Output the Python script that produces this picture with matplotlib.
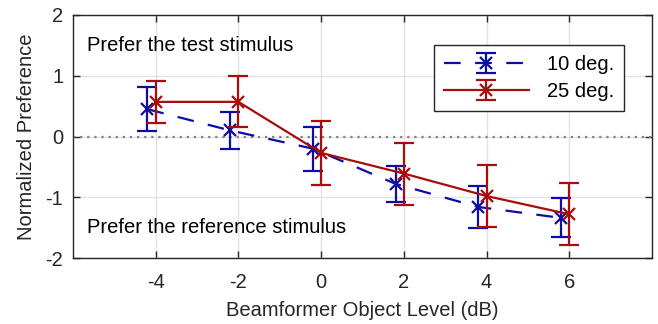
import numpy as np
import matplotlib
matplotlib.use("Agg")
import matplotlib.pyplot as plt

# Data
levels = [-4, -2, 0, 2, 4, 6]
pref_10 = [0.45, 0.10, -0.20, -0.78, -1.16, -1.34]
err_10 = [0.36, 0.31, 0.36, 0.30, 0.34, 0.32]
pref_25 = [0.57, 0.57, -0.27, -0.61, -0.98, -1.28]
err_25 = [0.35, 0.42, 0.53, 0.51, 0.51, 0.51]
xticks = [-4, -2, 0, 2, 4, 6]
yticks = [-2, -1, 0, 1, 2]

blue = "#0c0ca6"
red = "#a80c0c"
fs = 14.5

plt.rcParams["font.family"] = ["Liberation Sans", "DejaVu Sans"]
plt.rcParams["font.size"] = fs

fig = plt.figure(figsize=(6.58, 3.24), dpi=100)
ax = fig.add_axes([73 / 658, 1 - 258 / 324, 579 / 658, 243 / 324])

# zero reference line
ax.axhline(0, color="#808080", linestyle=(0, (1, 2.2)), linewidth=1.6, zorder=1)

x10 = np.array(levels) - 0.2
h10 = ax.errorbar(x10, pref_10, yerr=err_10, color=blue, linestyle=(0, (7.5, 6.5)),
                  linewidth=1.6, marker="x", markersize=9, markeredgewidth=1.6,
                  capsize=7, capthick=1.6, elinewidth=1.6, label="10 deg.", zorder=3)
h25 = ax.errorbar(levels, pref_25, yerr=err_25, color=red, linestyle="-",
                  linewidth=1.6, marker="x", markersize=9, markeredgewidth=1.6,
                  capsize=7, capthick=1.6, elinewidth=1.6, label="25 deg.", zorder=4)

ax.text(-5.67, 1.5, "Prefer the test stimulus", va="center", ha="left", fontsize=fs)
ax.text(-5.67, -1.5, "Prefer the reference stimulus", va="center", ha="left", fontsize=fs)

ax.set_xlim(-6, 8)
ax.set_ylim(-2, 2)
ax.set_xticks(xticks)
ax.set_yticks(yticks)
ax.set_xticklabels([str(t) for t in xticks])
ax.set_yticklabels([str(t) for t in yticks])
ax.set_xlabel("Beamformer Object Level (dB)", fontsize=fs, color="#262626", labelpad=7)
ax.set_ylabel("Normalized Preference", fontsize=fs, color="#262626", labelpad=7)

ax.grid(True, color="#e3e3e3", linewidth=1)
ax.set_axisbelow(True)
ax.tick_params(direction="in", length=5, width=1, top=True, right=True,
               colors="#262626", labelsize=fs)
ax.tick_params(axis="x", pad=10.5)
ax.tick_params(axis="y", pad=7)
for s in ax.spines.values():
    s.set_color("#262626")
    s.set_linewidth(1)

leg = ax.legend(handles=[h10, h25], loc="upper right",
                bbox_to_anchor=((624 - 73) / 579, (258 - 45) / 243),
                fancybox=False, framealpha=1, edgecolor="#262626",
                handlelength=4.2, fontsize=fs, borderpad=0.5, labelspacing=0.4,
                handletextpad=0.9, borderaxespad=0)
leg.get_frame().set_linewidth(1)

fig.savefig("out.png", dpi=100)
